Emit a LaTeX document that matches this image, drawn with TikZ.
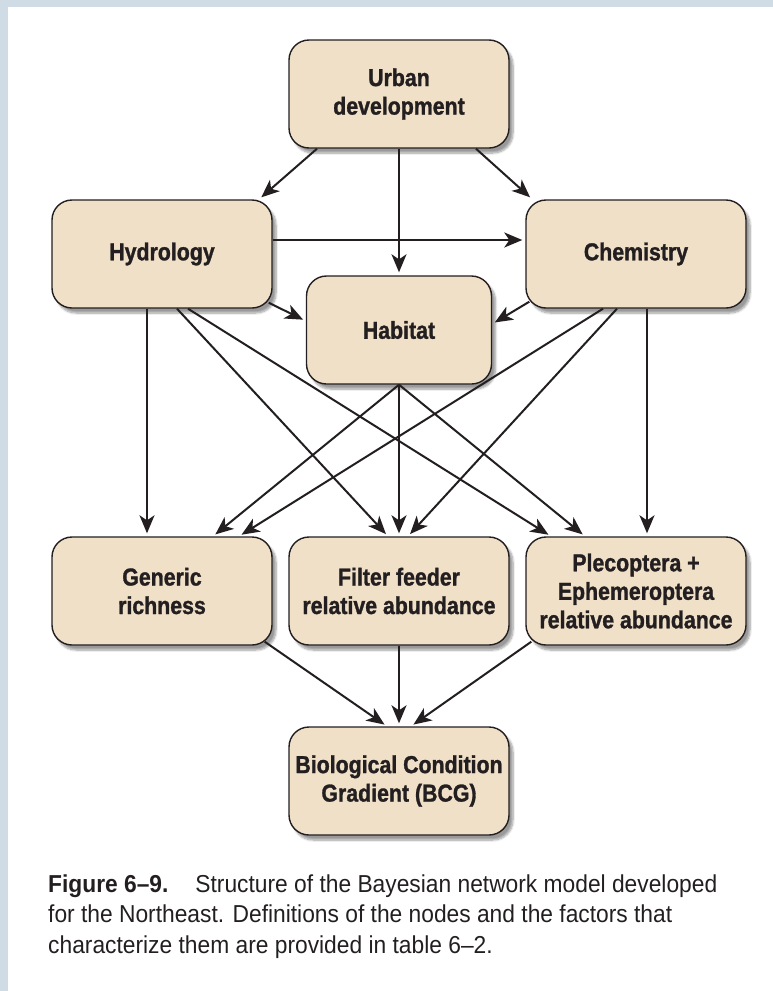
\documentclass[tikz,border=0pt]{standalone}
\usepackage{fontspec}
\setmainfont{Liberation Sans}[FakeStretch=0.87, BoldFeatures={FakeBold=1.2}]
\newfontfamily\capfont{Liberation Sans}[Ligatures=TeX, FakeStretch=0.93]
\usepackage{xcolor}
\usetikzlibrary{calc, positioning}
\usetikzlibrary{arrows.meta}
\usetikzlibrary{shadows.blur}

\definecolor{boxfill}{RGB}{240,224,200}
\definecolor{inkdark}{RGB}{35,31,32}
\definecolor{bandblue}{RGB}{207,220,229}

\begin{document}
\begin{tikzpicture}[x=1pt,y=-1pt,
    factor/.style={draw=inkdark, line width=1.4pt, fill=boxfill,
        rounded corners=20pt, minimum width=220pt, minimum height=108pt,
        align=center, text=inkdark,
        font=\fontsize{24.5}{28.5}\selectfont\bfseries,
        blur shadow={shadow xshift=4pt, shadow yshift=-5pt,
            shadow blur steps=8, shadow blur extra rounding=3pt,
            shadow opacity=40}},
    link/.style={draw=inkdark, line width=2pt,
        -{Stealth[length=18pt,width=15pt,inset=5pt]}, shorten >=3pt}]
\def\W{773}
\def\H{991}
\pgfmathsetmacro{\colL}{162}
\pgfmathsetmacro{\colM}{399}
\pgfmathsetmacro{\colR}{636}

\useasboundingbox (0,0) rectangle (\W,\H);

% Page margin bands
\fill[bandblue] (0,0) rectangle (8,\H);
\fill[bandblue] (0,0) rectangle (\W,7);

% Network nodes
\node[factor] (urb) at (\colM,94) {Urban\\development};
\node[factor] (hyd) at (\colL,254) {Hydrology};
\node[factor] (chem) at (\colR,254) {Chemistry};
\node[factor, minimum width=185pt] (hab) at (\colM,330) {Habitat};
\node[factor] (gen) at (\colL,591) {Generic\\richness};
\node[factor] (fil) at (\colM,591) {Filter feeder\\relative abundance};
\node[factor] (ple) at (\colR,591) {Plecoptera +\\Ephemeroptera\\relative abundance};
\node[factor] (bcg) at (\colM,781) {Biological Condition\\Gradient (BCG)};

% Links out of urban development
\draw[link] ($(urb.south)+(-82,0)$) -- ($(hyd.north)+(97,0)$);
\draw[link] (urb.south) -- (hab.north);
\draw[link] ($(urb.south)+(77,0)$) -- ($(chem.north west)+(7,0)$);

% Links between hydrology, chemistry and habitat
\draw[link] ($(hyd.east)+(0,-14)$) -- ($(chem.west)+(0,-14)$);
\draw[link] ($(hyd.south east)+(-4,-6)$) -- ($(hab.west)+(0,-9)$);
\draw[link] ($(chem.south west)+(4,-7)$) -- ($(hab.east)+(0,-6)$);

% Links down to the biological metrics
\draw[link] ($(hyd.south)+(-15,0)$) -- ($(gen.north)+(-15,0)$);
\draw[link] ($(hyd.south)+(15,0)$) -- ($(fil.north)+(-11,0)$);
\draw[link] ($(hyd.south)+(26,0)$) -- ($(ple.north)+(-85,0)$);
\draw[link] (hab.south) -- ($(gen.north)+(51,0)$);
\draw[link] (hab.south) -- (fil.north);
\draw[link] (hab.south) -- ($(ple.north)+(-51,0)$);
\draw[link] ($(chem.south)+(-33,0)$) -- ($(gen.north)+(77,0)$);
\draw[link] ($(chem.south)+(-19,0)$) -- ($(fil.north)+(9,0)$);
\draw[link] ($(chem.south)+(11,0)$) -- ($(ple.north)+(11,0)$);

% Links into the condition gradient
\draw[link] ($(gen.south east)+(-8,-4)$) -- ($(bcg.north)+(-12,0)$);
\draw[link] (fil.south) -- (bcg.north);
\draw[link] ($(ple.south west)+(6,-4)$) -- ($(bcg.north)+(12,0)$);

% Caption (base anchor sits on the last line)
\node[anchor=base west, align=left, inner sep=0pt, text=inkdark,
    font=\capfont\fontsize{24.5}{30.5}\selectfont] (caption) at (48,953)
    {\textbf{Figure 6--9.}\hspace{1.1em}Structure of the Bayesian network model developed\\
     for the Northeast. Definitions of the nodes and the factors that\\
     characterize them are provided in table 6--2.};
\end{tikzpicture}
\end{document}
